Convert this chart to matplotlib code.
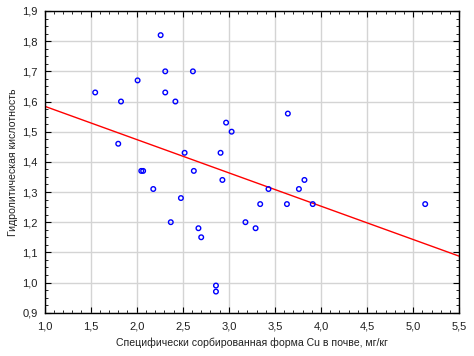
import matplotlib
matplotlib.use('Agg')
import matplotlib.pyplot as plt
from matplotlib.ticker import MultipleLocator, FuncFormatter
import numpy as np

# Cu in soil (mg/kg) vs hydrolytic acidity
cu = [2.26, 2.31, 2.61, 2.01, 1.55, 2.31, 1.83, 2.42, 2.97, 3.03,
      1.80, 2.52, 2.91, 2.05, 2.07, 2.62, 2.93, 3.43, 2.18, 2.48,
      3.34, 2.37, 3.18, 2.67, 3.29, 2.70, 2.86, 2.86, 3.64, 3.82,
      3.76, 3.63, 3.91, 5.13]
acidity = [1.82, 1.70, 1.70, 1.67, 1.63, 1.63, 1.60, 1.60, 1.53, 1.50,
           1.46, 1.43, 1.43, 1.37, 1.37, 1.37, 1.34, 1.31, 1.31, 1.28,
           1.26, 1.20, 1.20, 1.18, 1.18, 1.15, 0.99, 0.97, 1.56, 1.34,
           1.31, 1.26, 1.26, 1.26]

# fitted line as drawn in the original
fit_intercept = 1.695
fit_slope = -0.1105

x_label = 'Специфически сорбированная форма Cu в почве, мг/кг'
y_label = 'Гидролитическая кислотность'

plt.rcParams['font.family'] = ['Liberation Sans', 'DejaVu Sans']

fig = plt.figure(figsize=(4.74, 3.56), dpi=100)
ax = fig.add_axes([44.5 / 474, 1 - 312.7 / 356, 414.8 / 474, 301.7 / 356])

ax.grid(True, color='#d4d4d4', linewidth=1)
ax.set_axisbelow(True)

line_x = np.array([1.0, 5.5])
ax.plot(line_x, fit_intercept + fit_slope * line_x, color='red', linewidth=1)

ax.scatter(cu, acidity, s=11, facecolors='none', edgecolors='blue',
           linewidths=1, zorder=3)

ax.set_xlim(1.0, 5.5)
ax.set_ylim(0.9, 1.9)
ax.xaxis.set_major_locator(MultipleLocator(0.5))
ax.xaxis.set_minor_locator(MultipleLocator(0.1))
ax.yaxis.set_major_locator(MultipleLocator(0.1))
ax.yaxis.set_minor_locator(MultipleLocator(0.025))

comma = FuncFormatter(lambda v, p: ('%.1f' % v).replace('.', ','))
ax.xaxis.set_major_formatter(comma)
ax.yaxis.set_major_formatter(comma)

ax.tick_params(which='both', direction='in', top=True, right=True,
               labelsize=8, colors='black', labelcolor='#202020')
ax.tick_params(which='major', length=4)
ax.tick_params(which='minor', length=2)
ax.tick_params(axis='x', pad=6)
ax.tick_params(axis='y', pad=5)

for s in ax.spines.values():
    s.set_linewidth(1)
    s.set_color('black')

ax.set_xlabel(x_label, fontsize=7.6, labelpad=5, color='#202020')
ax.set_ylabel(y_label, fontsize=7.6, labelpad=3, color='#202020')

fig.savefig('out.png', dpi=100)
